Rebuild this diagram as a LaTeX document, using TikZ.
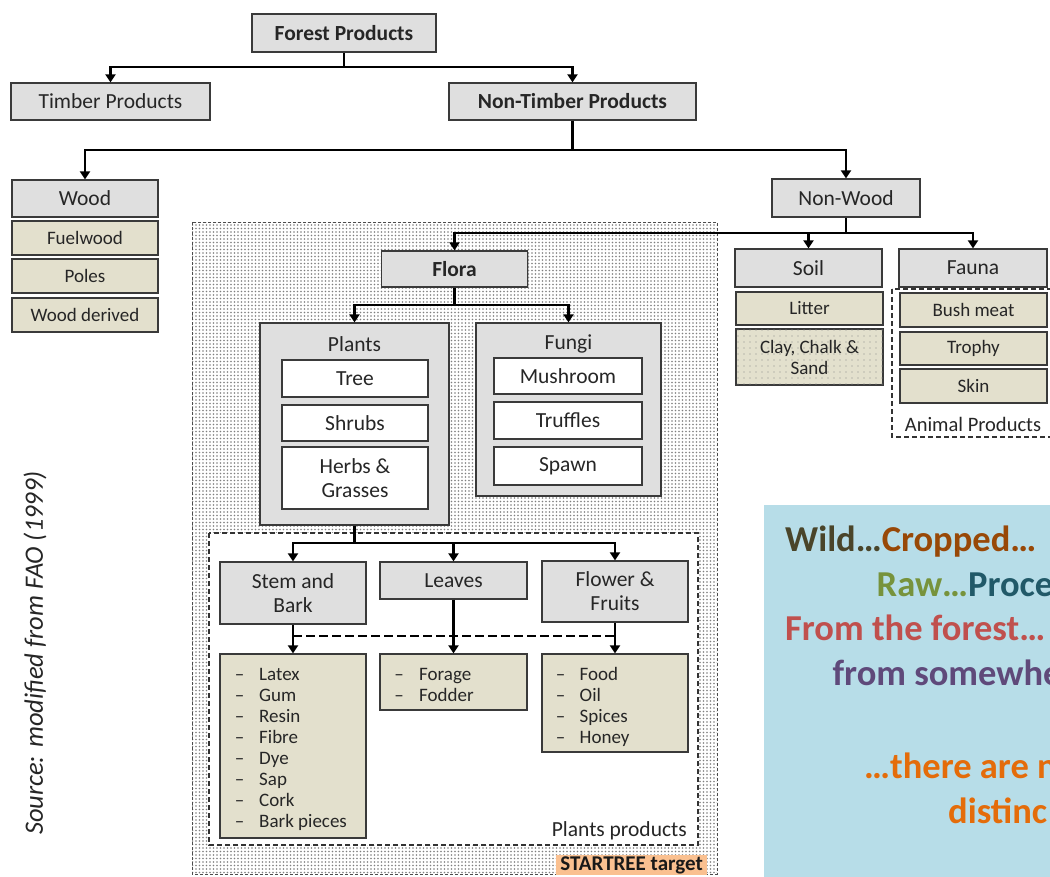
\documentclass[tikz,border=0pt]{standalone}
\usepackage{fontspec}
\setmainfont{Carlito}
\usetikzlibrary{arrows.meta,patterns.meta,shadows,calc}
\definecolor{boxgray}{HTML}{DFDFDF}
\definecolor{tanbox}{HTML}{E3E0CD}
\definecolor{bordc}{HTML}{3A3A3A}
\definecolor{bluebg}{HTML}{B7DDE8}
\definecolor{orangebg}{HTML}{FAC090}
\definecolor{cWild}{HTML}{4A452A}
\definecolor{cCrop}{HTML}{984807}
\definecolor{cRaw}{HTML}{77933C}
\definecolor{cProc}{HTML}{215968}
\definecolor{cFrom}{HTML}{C0504D}
\definecolor{cSome}{HTML}{5F497A}
\definecolor{cThere}{HTML}{E46C0A}
\newcommand\fsmain{\fontsize{21.5}{24}\selectfont}
\newcommand\fssub{\fontsize{19}{21}\selectfont}
\newcommand\fsbig{\fontsize{36.5}{44}\selectfont}
\tikzset{
  sz/.style 2 args={minimum width=#1pt, minimum height=#2pt},
  bx/.style={draw=bordc, line width=1.3pt, inner sep=0pt, align=center, text=black!85,
    drop shadow={shadow xshift=1pt, shadow yshift=-1pt, opacity=0.35}},
  gbox/.style={bx, fill=boxgray, font=\fsmain},
  tbox/.style={bx, fill=tanbox, font=\fssub},
  wbox/.style={bx, fill=white, font=\fsmain},
  lbl/.style={inner sep=0pt, font=\fsmain, text=black!85},
  itm/.style={inner sep=0pt, font=\fssub, text=black!85},
  ln/.style={line width=2.8pt, black},
  arr/.style={ln, -{Triangle[width=10pt,length=8pt]}},
  dashln/.style={line width=2.8pt, black, dash pattern=on 9pt off 4pt},
  grpbox/.style={draw=black!80, line width=1.1pt, dash pattern=on 5pt off 3pt},
  bigt/.style={inner sep=0pt, font=\bfseries\fsbig},
}
\begin{document}
\begin{tikzpicture}[x=1pt,y=-1pt]
\useasboundingbox (0,0) rectangle (1050,876);
\clip (0,0) rectangle (1050,876);
\fill[white] (0,0) rectangle (1050,876);

% STARTREE dotted region
\draw[draw=black!70, line width=0.9pt, dash pattern=on 3pt off 2pt,
  pattern={Dots[distance=3.5pt, radius=0.8pt]}, pattern color=black!50]
  (192,222) rectangle (717,874);
% plants products region
\draw[grpbox, fill=white] (209,533) rectangle (698,845);
% animal products region
\draw[grpbox] (892,289) rectangle (1060,437);

% blue text panel
\fill[bluebg] (764,505) rectangle (1060,880);

% top levels
\node[gbox, sz={184}{38}, font=\bfseries\fsmain] (fp) at (344,33) {Forest Products};
\node[gbox, sz={199}{37}] (tp) at (110.5,101.5) {Timber Products};
\node[gbox, sz={247}{37}, font=\bfseries\fsmain] (ntp) at (572.5,101.5) {Non-Timber Products};

% wood column
\node[gbox, sz={146}{37}] (wood) at (85,198.5) {Wood};
\node[tbox, sz={146}{34}] (fuel) at (85,238) {Fuelwood};
\node[tbox, sz={146}{34}] (poles) at (85,276) {Poles};
\node[tbox, sz={146}{34}] (wder) at (85,315) {Wood derived};

% non-wood
\node[gbox, sz={148}{38}] (nw) at (846,198) {Non-Wood};
\node[gbox, sz={147}{38}] (soil) at (808.5,268) {Soil};
\node[gbox, sz={148}{38}] (fauna) at (973,268) {Fauna};
\node[tbox, sz={147}{33}] (litter) at (809.5,308.5) {Litter};
\node[tbox, sz={147}{56}, postaction={pattern={Dots[distance=6pt, radius=0.6pt]}, pattern color=black!45}] (clay) at (809.5,357) {Clay, Chalk \&\\Sand};
\node[tbox, sz={147}{34}] (bush) at (973.5,310) {Bush meat};
\node[tbox, sz={147}{33}] (trophy) at (973.5,348.5) {Trophy};
\node[tbox, sz={147}{34}] (skin) at (973.5,386) {Skin};
\node[lbl, font=\fontsize{20.5}{24}\selectfont] (aprod) at (973,424) {Animal Products};

% flora
\node[gbox, sz={146}{36}, font=\bfseries\fsmain] (flora) at (454.5,269) {Flora};
\node[gbox, sz={189}{202}] (plants) at (354.5,424) {};
\node[lbl] (plantsl) at (354.5,344) {Plants};
\node[wbox, sz={146}{37}] (tree) at (355,378.5) {Tree};
\node[wbox, sz={146}{36}] (shrubs) at (355,423) {Shrubs};
\node[wbox, sz={146}{62}] (herbs) at (355,478) {Herbs \&\\Grasses};
\node[gbox, sz={185}{173}] (fungi) at (568.5,409.5) {};
\node[lbl] (fungil) at (568.5,344) {Fungi};
\node[wbox, sz={148}{36}] (mush) at (568,376) {Mushroom};
\node[wbox, sz={148}{37}] (truff) at (568,420.5) {Truffles};
\node[wbox, sz={148}{38}] (spawn) at (568,466) {Spawn};

% plant parts
\node[gbox, sz={146}{62}] (stem) at (293,593) {Stem and\\Bark};
\node[gbox, sz={147}{37}] (leaves) at (453.5,580.5) {Leaves};
\node[gbox, sz={146}{61}] (flower) at (615,591.5) {Flower \&\\Fruits};
\node[tbox, sz={146}{184}] (stemlist) at (293,746) {};
\node[tbox, sz={147}{56}] (forage) at (453.5,682) {};
\node[tbox, sz={146}{98}] (food) at (615,703) {};

\foreach \t [count=\i] in {Latex,Gum,Resin,Fibre,Dye,Sap,Cork,Bark pieces} {
  \node[itm, anchor=base] (sbd\i) at (239.5,{680+(\i-1)*21.14}) {–};
  \node[itm, anchor=base west] (sbt\i) at (259,{680+(\i-1)*21.14}) {\t};
}
\foreach \t [count=\i] in {Forage,Fodder} {
  \node[itm, anchor=base] (fod\i) at (399,{680+(\i-1)*21.14}) {–};
  \node[itm, anchor=base west] (fot\i) at (419,{680+(\i-1)*21.14}) {\t};
}
\foreach \t [count=\i] in {Food,Oil,Spices,Honey} {
  \node[itm, anchor=base] (ffd\i) at (560.5,{680+(\i-1)*21.14}) {–};
  \node[itm, anchor=base west] (fft\i) at (579.5,{680+(\i-1)*21.14}) {\t};
}

\node[lbl, anchor=east] (pprod) at (687,831) {Plants products};
\node[fill=orangebg, font=\bfseries\fontsize{21}{24}\selectfont, inner xsep=4pt, inner ysep=1pt, anchor=east, text=black!90] (star) at (707,865) {STARTREE target};

% connectors
\coordinate (j1) at (344,67);
\draw[ln] (fp.south) -- (j1);
\draw[arr] (j1) -| (tp.north);
\draw[arr] (j1) -| (ntp.north);
\coordinate (j2) at (572.5,150);
\draw[ln] (ntp.south) -- (j2);
\draw[arr] (j2) -| (wood.north);
\draw[arr] (j2) -| (nw.north);
\coordinate (j3) at (846,233);
\draw[ln] (nw.south) -- (j3);
\draw[arr] (j3) -| (flora.north);
\draw[arr] (j3) -| (soil.north);
\draw[arr] (j3) -| (fauna.north);
\coordinate (j4) at (454.5,305);
\draw[ln] (flora.south) -- (j4);
\draw[arr] (j4) -| (plants.north);
\draw[arr] (j4) -| (fungi.north);
\coordinate (j5) at (354.5,543);
\draw[ln] (plants.south) -- (j5);
\draw[arr] (j5) -| (stem.north);
\draw[arr] (j5) -| (leaves.north);
\draw[arr] (j5) -| (flower.north);
\coordinate (dl) at (0,636);
\draw[dashln] (stem.south |- dl) -- (flower.south |- dl);
\draw[arr] (stem.south) -- (stemlist.north);
\draw[arr] (leaves.south) -- (forage.north);
\draw[arr] (flower.south) -- (food.north);

% blue panel text
\node[bigt, anchor=base west] (t1) at (785,551.7) {\textcolor{cWild}{Wild…}\textcolor{cCrop}{Cropped…}};
\node[bigt, anchor=base west] (t2) at (876.5,596.7) {\textcolor{cRaw}{Raw…}\textcolor{cProc}{Proce}};
\node[bigt, anchor=base west, text=cFrom] (t3) at (785,640) {From the forest…};
\node[bigt, anchor=base west, text=cSome] (t4) at (832.5,685) {from somewhe};
\node[bigt, anchor=base west, text=cThere] (t5) at (864,778) {…there are n};
\node[bigt, anchor=base west, text=cThere] (t6) at (948,823) {distinc};

% source
\node[rotate=90, font=\itshape\fontsize{26.5}{30}\selectfont, text=black!85, inner sep=0pt] (src) at (35,653) {Source: modified from FAO (1999)};
\end{tikzpicture}
\end{document}
